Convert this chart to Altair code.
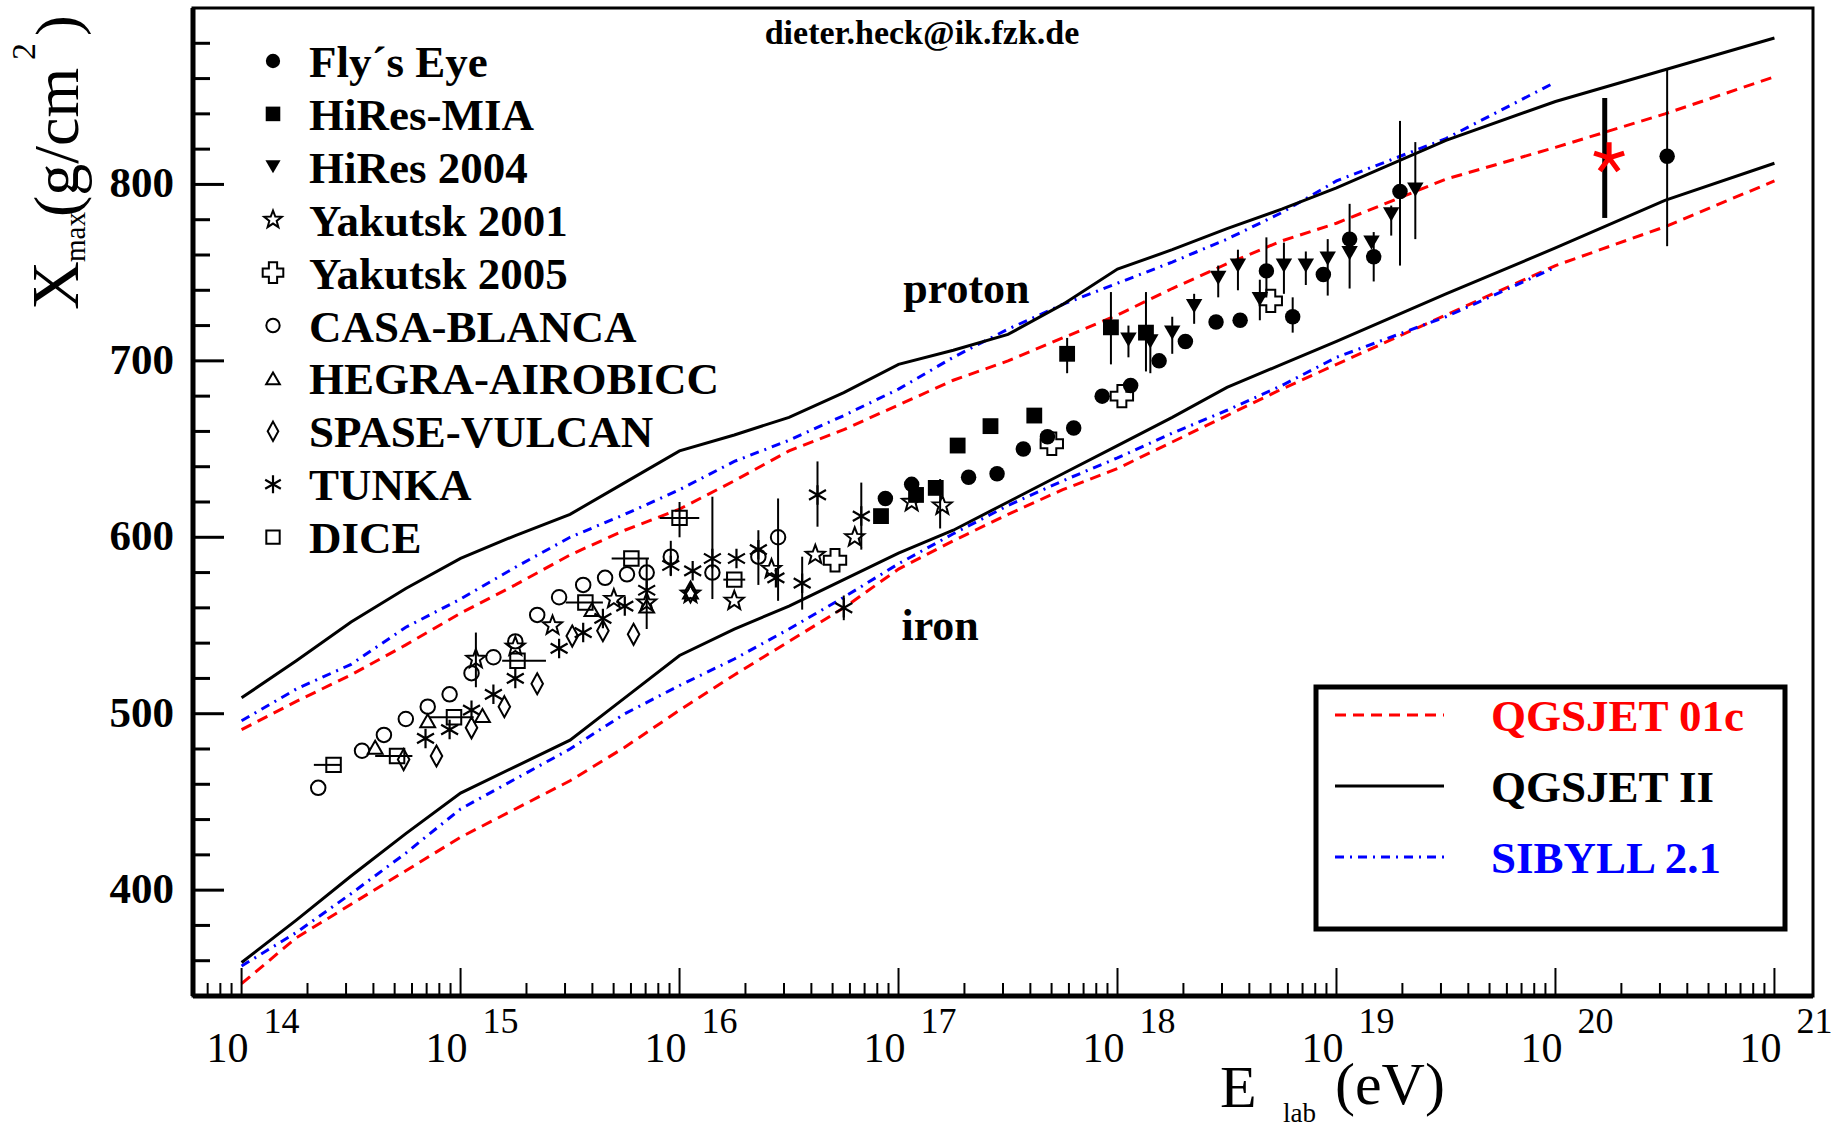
import altair as alt
import pandas as pd

# ---------------- model curves: log10(E/eV) grid and Xmax (g/cm^2) ----------------
GRID = [14.0, 14.25, 14.5, 14.75, 15.0, 15.25, 15.5, 15.75, 16.0, 16.25, 16.5, 16.75,
        17.0, 17.25, 17.5, 17.75, 18.0, 18.25, 18.5, 18.75, 19.0, 19.5, 20.0, 20.5, 21.0]
GRID_SIB = [14.0, 14.25, 14.5, 14.75, 15.0, 15.25, 15.5, 15.75, 16.0, 16.25, 16.5, 16.75,
            17.0, 17.25, 17.5, 17.75, 18.0, 18.25, 18.5, 18.75, 19.0, 19.5, 20.0]

QGSII_P = [509, 530, 552, 571, 588, 601, 613, 631, 649, 658, 668, 682, 698, 706, 715, 732,
           752, 763, 775, 786, 798, 825, 847, 865, 883]
QGSII_FE = [359, 383, 408, 432, 455, 470, 485, 509, 533, 548, 561, 576, 591, 604, 620, 636,
            652, 668, 685, 698, 711, 738, 764, 791, 812]
QGS01_P = [491, 507, 522, 539, 557, 573, 590, 604, 616, 632, 649, 661, 675, 689, 700, 713,
           726, 741, 755, 768, 778, 803, 821, 840, 861]
QGS01_FE = [347, 373, 392, 411, 430, 446, 462, 481, 502, 522, 541, 560, 582, 598, 613, 627,
            639, 654, 669, 684, 698, 726, 754, 776, 802]
SIB_P = [496, 514, 528, 549, 565, 583, 600, 613, 627, 643, 655, 669, 684, 702, 718, 732,
         744, 756, 769, 784, 802, 826, 858]
SIB_FE = [357, 376, 398, 421, 446, 463, 480, 500, 516, 531, 548, 566, 585, 602, 618, 632,
          645, 659, 672, 686, 702, 725, 753]

# ---------------- measurements: log10(E/eV) and Xmax ----------------
FLY_LOGE = [16.94, 17.06, 17.32, 17.45, 17.57, 17.68, 17.80, 17.93, 18.06, 18.19, 18.31,
            18.45, 18.56, 18.68, 18.80, 18.94, 19.06, 19.17, 19.29, 20.51]
FLY_X = [622, 630, 634, 636, 650, 657, 662, 680, 686, 700, 711, 722, 723, 751, 725, 749,
         769, 759, 796, 816]
MIA_LOGE = [16.92, 17.08, 17.17, 17.27, 17.42, 17.62, 17.77, 17.97, 18.13]
MIA_X = [612, 624, 628, 652, 663, 669, 704, 719, 716]
HIRES_LOGE = [18.05, 18.15, 18.25, 18.35, 18.46, 18.55, 18.65, 18.76, 18.86, 18.96, 19.06,
              19.16, 19.25, 19.36]
HIRES_X = [712, 711, 716, 731, 747, 754, 735, 754, 754, 758, 761, 767, 783, 797]
YAK01_LOGE = [15.07, 15.25, 15.42, 15.70, 15.85, 16.05, 16.25, 16.42, 16.62, 16.80, 17.06, 17.20]
YAK01_X = [531, 538, 550, 565, 563, 568, 564, 582, 590, 600, 620, 618]
YAK05_LOGE = [16.71, 17.70, 18.02, 18.70]
YAK05_X = [587, 653, 680, 734]
CASA_LOGE = [14.35, 14.55, 14.65, 14.75, 14.85, 14.95, 15.05, 15.15, 15.25, 15.35, 15.45,
             15.56, 15.66, 15.76, 15.85, 15.96, 16.15, 16.36, 16.45]
CASA_X = [458, 479, 488, 497, 504, 511, 523, 532, 541, 556, 566, 573, 577, 579, 580, 589,
          580, 589, 600]
HEGRA_LOGE = [14.61, 14.85, 15.10, 15.60, 15.85, 16.05]
HEGRA_X = [481, 496, 499, 559, 561, 569]
SPASE_LOGE = [14.74, 14.89, 15.05, 15.20, 15.35, 15.51, 15.65, 15.79, 16.05]
SPASE_X = [474, 476, 492, 504, 517, 544, 547, 545, 569]
TUNKA_LOGE = [14.84, 14.95, 15.05, 15.15, 15.25, 15.45, 15.56, 15.65, 15.75, 15.85, 15.96,
              16.06, 16.15, 16.26, 16.36, 16.44, 16.56, 16.63, 16.75, 16.83]
TUNKA_X = [486, 491, 502, 511, 520, 537, 546, 554, 561, 570, 584, 581, 588, 588, 593, 577,
           574, 624, 560, 612]
DICE_LOGE = [14.42, 14.71, 14.97, 15.26, 15.57, 15.78, 16.00, 16.25]
DICE_X = [471, 476, 498, 530, 563, 588, 611, 576]
DICE_LOGE_LO = [14.33, 14.61, 14.86, 15.19, 15.48, 15.69, 15.91, 16.20]
DICE_LOGE_HI = [14.45, 14.78, 15.06, 15.39, 15.65, 15.86, 16.09, 16.30]

# vertical error bars
ERR_LOGE = [15.07, 15.85, 15.96, 16.00, 16.15, 16.36, 16.45, 16.56, 16.63, 16.75, 16.83, 17.19,
            17.77, 17.97, 18.13, 18.05, 18.15, 18.25, 18.35, 18.46, 18.55, 18.65, 18.68, 18.76,
            18.80, 18.86, 18.96, 19.06, 19.17, 19.25, 19.29, 19.36, 20.51]
ERR_LO = [515, 548, 578, 600, 565, 573, 564, 559, 606, 553, 593, 605,
          693, 698, 694, 702, 693, 704, 721, 736, 740, 723, 737, 738,
          716, 743, 737, 741, 745, 771, 754, 769, 765]
ERR_HI = [546, 588, 598, 620, 623, 604, 622, 589, 643, 567, 631, 633,
          713, 739, 739, 720, 713, 725, 738, 754, 763, 746, 770, 767,
          736, 762, 769, 789, 773, 788, 836, 824, 865]

# red asterisk point
STAR_LOGE = [20.245]
STAR_X = [815]
STAR_BAR_LOGE = [20.225]
STAR_BAR_LO = [781]
STAR_BAR_HI = [849]

# axis labels
Y_LABELS = [400, 500, 600, 700, 800]
X_EXPONENTS = [14, 15, 16, 17, 18, 19, 20, 21]

SERIES_NAMES = ["Fly\u00b4s Eye", "HiRes-MIA", "HiRes 2004", "Yakutsk 2001", "Yakutsk 2005",
                "CASA-BLANCA", "HEGRA-AIROBICC", "SPASE-VULCAN", "TUNKA", "DICE"]
MODEL_NAMES = ["QGSJET 01c", "QGSJET II", "SIBYLL 2.1"]

# ---------------- styling ----------------
W, H = 1620, 988
FONT = "Liberation Serif"
xs = alt.Scale(type="log", domain=[6e13, 1.5e21], nice=False)
ys = alt.Scale(domain=[340, 900], nice=False, zero=False)

STAR = "M0,-1L0.247,-0.34L0.951,-0.309L0.399,0.13L0.588,0.809L0,0.42L-0.588,0.809L-0.399,0.13L-0.951,-0.309L-0.247,-0.34Z"
ASTER6 = "M0,-1L0,1M-0.87,-0.5L0.87,0.5M-0.87,0.5L0.87,-0.5"
ASTER5 = "M0,0L0,-1M0,0L0.95,-0.31M0,0L0.59,0.81M0,0L-0.59,0.81M0,0L-0.95,-0.31"
TALLDIAMOND = "M0,-1L0.55,0L0,1L-0.55,0Z"

STYLES = [
    dict(shape="circle", filled=True, size=240, sw=1),
    dict(shape="square", filled=True, size=250, sw=1),
    dict(shape="triangle-down", filled=True, size=270, sw=1),
    dict(shape=STAR, filled=False, size=400, sw=2),
    dict(shape="cross", filled=False, size=500, sw=2),
    dict(shape="circle", filled=False, size=210, sw=2),
    dict(shape="triangle-up", filled=False, size=220, sw=2),
    dict(shape=TALLDIAMOND, filled=False, size=440, sw=2),
    dict(shape=ASTER6, filled=False, size=380, sw=2.2),
    dict(shape="square", filled=False, size=210, sw=2),
]
SERIES_DATA = [(FLY_LOGE, FLY_X), (MIA_LOGE, MIA_X), (HIRES_LOGE, HIRES_X),
               (YAK01_LOGE, YAK01_X), (YAK05_LOGE, YAK05_X), (CASA_LOGE, CASA_X),
               (HEGRA_LOGE, HEGRA_X), (SPASE_LOGE, SPASE_X), (TUNKA_LOGE, TUNKA_X),
               (DICE_LOGE, DICE_X)]


def ex():
    return alt.X("E:Q", scale=xs, axis=None)


def ey(field="X"):
    return alt.Y(f"{field}:Q", scale=ys, axis=None)


one = pd.DataFrame({"a": [0]})
layers = []

# model curves
CURVES = [
    (GRID, QGS01_P, "#ff0000", [11, 7]), (GRID, QGS01_FE, "#ff0000", [11, 7]),
    (GRID_SIB, SIB_P, "#0000ff", [9, 6, 2, 6]), (GRID_SIB, SIB_FE, "#0000ff", [9, 6, 2, 6]),
    (GRID, QGSII_P, "#000000", None), (GRID, QGSII_FE, "#000000", None),
]
for g, v, col, dash in CURVES:
    df = pd.DataFrame({"E": [10 ** t for t in g], "X": v, "o": list(range(len(g)))})
    kw = dict(color=col, strokeWidth=3)
    if dash:
        kw["strokeDash"] = dash
    layers.append(alt.Chart(df).mark_line(**kw).encode(x=ex(), y=ey(), order="o:Q"))

# error bars
err = pd.DataFrame({"E": [10 ** t for t in ERR_LOGE], "lo": ERR_LO, "hi": ERR_HI})
layers.append(alt.Chart(err).mark_rule(color="black", strokeWidth=2).encode(
    x=ex(), y=ey("lo"), y2="hi:Q"))
dbar = pd.DataFrame({"E1": [10 ** t for t in DICE_LOGE_LO], "E2": [10 ** t for t in DICE_LOGE_HI],
                     "X": DICE_X})
layers.append(alt.Chart(dbar).mark_rule(color="black", strokeWidth=2).encode(
    x=alt.X("E1:Q", scale=xs, axis=None), x2="E2:Q", y=ey()))
sbar = pd.DataFrame({"E": [10 ** t for t in STAR_BAR_LOGE], "lo": STAR_BAR_LO, "hi": STAR_BAR_HI})
layers.append(alt.Chart(sbar).mark_rule(color="black", strokeWidth=5).encode(
    x=ex(), y=ey("lo"), y2="hi:Q"))

# data points
for (lg, xv), st in zip(SERIES_DATA, STYLES):
    df = pd.DataFrame({"E": [10 ** t for t in lg], "X": xv})
    layers.append(alt.Chart(df).mark_point(
        shape=st["shape"], filled=st["filled"], size=st["size"], color="black",
        strokeWidth=st["sw"], opacity=1).encode(x=ex(), y=ey()))

sdf = pd.DataFrame({"E": [10 ** t for t in STAR_LOGE], "X": STAR_X})
layers.append(alt.Chart(sdf).mark_point(shape=ASTER5, filled=False, size=1000, color="#ff0000",
                                        strokeWidth=5, opacity=1).encode(x=ex(), y=ey()))

# annotations in data coordinates
ann = pd.DataFrame({"E": [10 ** 17.31, 10 ** 17.19], "X": [740, 549], "t": ["proton", "iron"]})
layers.append(alt.Chart(ann).mark_text(font=FONT, fontSize=44, fontWeight="bold",
                                       baseline="middle", align="center").encode(
    x=ex(), y=ey(), text="t:N"))

# ticks (inside frame)
maj_x = [10 ** k for k in X_EXPONENTS]
min_x = [m * 10 ** k for k in range(13, 21) for m in range(2, 10) if 6e13 < m * 10 ** k < 1.5e21]
layers.append(alt.Chart(pd.DataFrame({"E": maj_x})).mark_rule(color="black", strokeWidth=2).encode(
    x=ex(), y=alt.value(H), y2=alt.value(H - 28)))
layers.append(alt.Chart(pd.DataFrame({"E": min_x})).mark_rule(color="black", strokeWidth=2).encode(
    x=ex(), y=alt.value(H), y2=alt.value(H - 13)))
maj_y = Y_LABELS
min_y = [v for v in range(360, 900, 20) if v % 100 != 0]
layers.append(alt.Chart(pd.DataFrame({"X": maj_y})).mark_rule(color="black", strokeWidth=3).encode(
    y=ey(), x=alt.value(0), x2=alt.value(31)))
layers.append(alt.Chart(pd.DataFrame({"X": min_y})).mark_rule(color="black", strokeWidth=3).encode(
    y=ey(), x=alt.value(0), x2=alt.value(17)))

# thicker left / bottom axis lines
layers.append(alt.Chart(one).mark_rule(color="black", strokeWidth=5).encode(
    x=alt.value(0), y=alt.value(0), y2=alt.value(H)))
layers.append(alt.Chart(one).mark_rule(color="black", strokeWidth=5).encode(
    x=alt.value(0), x2=alt.value(W), y=alt.value(H)))

# tick labels
ylab = pd.DataFrame({"X": Y_LABELS, "t": [str(v) for v in Y_LABELS]})
layers.append(alt.Chart(ylab).mark_text(font=FONT, fontSize=43, fontWeight="bold", align="right",
                                        baseline="middle").encode(
    x=alt.value(-19), y=ey(), text="t:N"))
xlab = pd.DataFrame({"E": maj_x, "b": ["10"] * len(maj_x), "e": [str(k) for k in X_EXPONENTS]})
layers.append(alt.Chart(xlab).mark_text(font=FONT, fontSize=42, align="center", baseline="middle",
                                        dx=-14).encode(x=ex(), y=alt.value(H + 53), text="b:N"))
layers.append(alt.Chart(xlab).mark_text(font=FONT, fontSize=36, align="center", baseline="middle",
                                        dx=40).encode(x=ex(), y=alt.value(H + 26), text="e:N"))


# axis titles
def txt(t, x, y, size, angle=0, weight="normal", align="left", color="black"):
    kw = dict(font=FONT, fontSize=size, fontWeight=weight, align=align, baseline="alphabetic",
              color=color, text=t)
    if angle:
        kw["angle"] = angle
    return alt.Chart(one).mark_text(**kw).encode(x=alt.value(x), y=alt.value(y))


layers += [
    txt("E", 1027, 1099, 60),
    txt("lab", 1090, 1114, 27),
    txt("(eV)", 1142, 1096, 60),
    txt("X", -115, 302, 68, angle=270),
    txt("max", -108, 254, 29, angle=270),
    txt("(g/cm", -115, 209, 64, angle=270),
    txt("2", -158, 52, 34, angle=270),
    txt(")", -115, 28, 62, angle=270),
    txt("dieter.heck@ik.fzk.de", 729, 36, 34, weight="bold", align="center"),
]

# top-left legend
for i, (name, st) in enumerate(zip(SERIES_NAMES, STYLES)):
    yy = 53 + 52.9 * i
    layers.append(alt.Chart(one).mark_point(
        shape=st["shape"], filled=st["filled"], size=st["size"] * 0.85, color="black",
        strokeWidth=st["sw"], opacity=1).encode(x=alt.value(80), y=alt.value(yy)))
    layers.append(alt.Chart(one).mark_text(
        font=FONT, fontSize=45, fontWeight="bold", align="left", baseline="middle",
        text=name).encode(x=alt.value(116), y=alt.value(yy + 2)))

# bottom-right model legend
layers.append(alt.Chart(one).mark_rect(fill="white", stroke="black", strokeWidth=5).encode(
    x=alt.value(1123), x2=alt.value(1592), y=alt.value(679), y2=alt.value(921)))
LEG_COLORS = ["#ff0000", "#000000", "#0000ff"]
LEG_DASH = [[11, 7], None, [9, 6, 2, 6]]
for i, (name, col, dash) in enumerate(zip(MODEL_NAMES, LEG_COLORS, LEG_DASH)):
    yy = 707 + 71 * i
    kw = dict(color=col, strokeWidth=3)
    if dash:
        kw["strokeDash"] = dash
    layers.append(alt.Chart(one).mark_rule(**kw).encode(
        x=alt.value(1142), x2=alt.value(1251), y=alt.value(yy)))
    layers.append(alt.Chart(one).mark_text(
        font=FONT, fontSize=45, fontWeight="bold", align="left", baseline="middle",
        color=col, text=name).encode(x=alt.value(1298), y=alt.value(yy + 2)))

chart = alt.layer(*layers).properties(
    width=W, height=H,
    autosize=alt.AutoSizeParams(type="none"),
    padding={"left": 193, "top": 8, "right": 35, "bottom": 131},
    background="white",
).configure_view(stroke="black", strokeWidth=3, fill="white")

chart.save("out.html", embed_options={"renderer": "svg", "actions": False})
